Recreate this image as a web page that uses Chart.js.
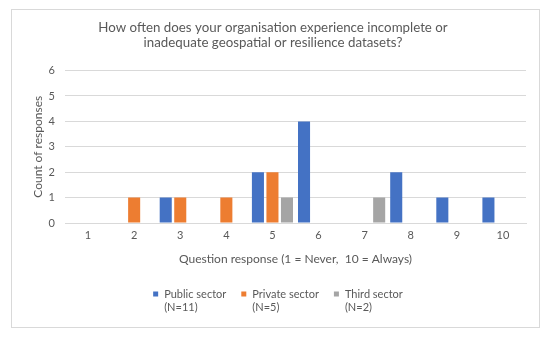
<!DOCTYPE html>
<html>
<head>
<meta charset="utf-8">
<script src="https://cdn.jsdelivr.net/npm/chart.js@4/dist/chart.umd.min.js"></script>
<style>
  html, body { margin: 0; padding: 0; background: #fff; }
  #wrap { width: 550px; height: 338px; }
</style>
</head>
<body>
<div id="wrap"><canvas id="myChart" width="550" height="338"></canvas></div>
<script>
// chart data
const responses = ["1", "2", "3", "4", "5", "6", "7", "8", "9", "10"];
const publicSector = [0, 0, 1, 0, 2, 4, 0, 2, 1, 1];
const privateSector = [0, 1, 1, 1, 2, 0, 0, 0, 0, 0];
const thirdSector = [0, 0, 0, 0, 1, 0, 1, 0, 0, 0];
const seriesNames = ["Public sector", "Private sector", "Third sector"];
const seriesNotes = ["(N=11)", "(N=5)", "(N=2)"];
const seriesColors = ["#4472C4", "#ED7D31", "#A5A5A5"];

const titleLines = [
  "How often does your organisation experience incomplete or",
  "inadequate geospatial or resilience datasets?"
];

const FONT = "Lato, 'Open Sans', sans-serif";
const TEXT = "#595959";

// white background + light frame around the whole chart
const framePlugin = {
  id: "frame",
  beforeDraw(c) {
    const ctx = c.ctx;
    ctx.save();
    ctx.fillStyle = "#fff";
    ctx.fillRect(0, 0, c.width, c.height);
    ctx.strokeStyle = "#d9d9d9";
    ctx.lineWidth = 1;
    ctx.strokeRect(11.5, 9.5, 528, 318);
    ctx.restore();
  }
};

// legend with two-line labels, like the Excel one
const twoLineLegend = {
  id: "twoLineLegend",
  afterDraw(c) {
    const ctx = c.ctx;
    ctx.save();
    ctx.font = "11px " + FONT;
    ctx.textBaseline = "middle";
    const box = 5, gap = 6, space = 15;
    const widths = c.data.datasets.map((ds, i) =>
      box + gap + Math.max(ctx.measureText(seriesNames[i]).width, ctx.measureText(seriesNotes[i]).width));
    const total = widths.reduce((a, b) => a + b, 0) + space * (widths.length - 1);
    let x = (c.width - total) / 2 + 3;
    const y1 = 294, y2 = 307;
    c.data.datasets.forEach((ds, i) => {
      ctx.fillStyle = ds.backgroundColor;
      ctx.fillRect(x, y1 - box / 2, box, box);
      ctx.fillStyle = TEXT;
      ctx.fillText(seriesNames[i], x + box + gap, y1);
      ctx.fillText(seriesNotes[i], x + box + gap, y2);
      x += widths[i] + space;
    });
    ctx.restore();
  }
};

const ctx = document.getElementById("myChart").getContext("2d");
const chart = new Chart(ctx, {
  type: "bar",
  data: {
    labels: responses,
    datasets: [
      { label: seriesNames[0], data: publicSector, backgroundColor: seriesColors[0] },
      { label: seriesNames[1], data: privateSector, backgroundColor: seriesColors[1] },
      { label: seriesNames[2], data: thirdSector, backgroundColor: seriesColors[2] }
    ]
  },
  options: {
    responsive: false,
    animation: false,
    categoryPercentage: 0.945,
    barPercentage: 0.83,
    layout: { padding: { left: 20, right: 24, top: 0, bottom: 65 } },
    plugins: {
      legend: { display: false },
      tooltip: { enabled: false },
      title: {
        display: true,
        text: titleLines,
        color: TEXT,
        font: { family: FONT, size: 13.3, weight: "normal", lineHeight: 1.15 },
        padding: { top: 20, bottom: 20 }
      }
    },
    scales: {
      x: {
        grid: { display: false, drawTicks: false },
        border: { color: "#d9d9d9" },
        ticks: { color: TEXT, font: { family: FONT, size: 11 }, padding: 6, maxRotation: 0 },
        title: {
          display: true,
          text: "Question response (1 = Never,  10 = Always)",
          color: TEXT,
          font: { family: FONT, size: 12 },
          padding: { top: 4, bottom: 7 }
        },
        afterFit(scale) { scale.height = 50; }
      },
      y: {
        min: 0,
        max: 6,
        grid: { color: "#d9d9d9", drawTicks: false },
        border: { display: false },
        ticks: { stepSize: 1, color: TEXT, font: { family: FONT, size: 11 }, padding: 10 },
        title: {
          display: true,
          text: "Count of responses",
          color: TEXT,
          font: { family: FONT, size: 12 },
          padding: { top: 11, bottom: 0 }
        },
        afterFit(scale) { scale.width = 45; }
      }
    }
  },
  plugins: [framePlugin, twoLineLegend]
});
</script>
</body>
</html>
